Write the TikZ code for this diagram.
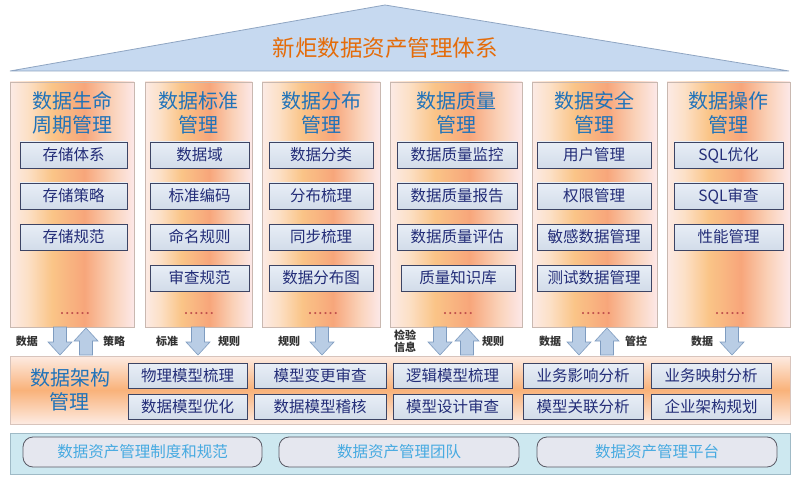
\documentclass[tikz,border=0pt]{standalone}
\usepackage{fontspec}
\setmainfont{Noto Sans CJK SC}
\definecolor{rooffill}{HTML}{C6D9F0}
\definecolor{roofline}{HTML}{8FA5C2}
\definecolor{titleorange}{HTML}{E46C0A}
\definecolor{colline}{HTML}{C9B8B0}
\definecolor{coltext}{RGB}{33,115,185}
\definecolor{itemtext}{RGB}{35,45,120}
\definecolor{itemline}{HTML}{3C4464}
\definecolor{itemtop}{HTML}{E8EEF6}
\definecolor{itembot}{HTML}{D2DCE9}
\definecolor{dotred}{HTML}{C0504D}
\definecolor{arrfill}{HTML}{B9CDE5}
\definecolor{arrline}{HTML}{7F9CC0}
\definecolor{labtext}{HTML}{333333}
\definecolor{bandedge}{HTML}{FDEBE2}
\definecolor{bandmid}{HTML}{F9B27A}
\definecolor{bandline}{HTML}{D8C4BC}
\definecolor{basefill}{HTML}{CDE8F0}
\definecolor{baseline}{HTML}{9FBAC6}
\definecolor{pillfill}{HTML}{E5E7EF}
\definecolor{pillline}{HTML}{5A5A66}
\definecolor{pilltext}{RGB}{70,170,225}
\pgfdeclarehorizontalshading{colshade}{100bp}{rgb(0bp)=(0.99,0.92,0.90); rgb(25bp)=(0.99,0.92,0.90); rgb(32bp)=(0.99,0.88,0.78); rgb(42bp)=(0.98,0.77,0.53); rgb(55bp)=(0.97,0.65,0.48); rgb(66bp)=(0.98,0.82,0.72); rgb(75bp)=(0.99,0.91,0.91); rgb(100bp)=(0.99,0.91,0.91)}
\tikzset{
  colbox/.style={draw=colline, line width=0.6pt, shading=colshade, minimum height=245pt, inner sep=0pt},
  coltitle/.style={text=coltext, align=center, font=\fontsize{20}{23.5}\selectfont},
  item/.style={draw=itemline, line width=0.8pt, top color=itemtop, bottom color=itembot, minimum height=26pt, inner sep=0pt, text=itemtext, font=\fontsize{15.5}{17}\selectfont},
  dots/.style={text=dotred, font=\fontsize{10}{10}\selectfont\bfseries},
  blockarrow/.style={draw=arrline, fill=arrfill, line width=0.6pt, line join=miter},
  arrlabel/.style={text=labtext, align=center, font=\fontsize{11}{12}\selectfont\bfseries},
  band/.style={draw=bandline, line width=0.6pt, top color=bandedge, bottom color=bandedge, middle color=bandmid, inner sep=0pt},
  architem/.style={draw=itemline, line width=0.8pt, top color=itemtop, bottom color=itembot, minimum height=25pt, minimum width=120pt, inner sep=0pt, text=itemtext, font=\fontsize{15.5}{17}\selectfont},
  pill/.style={draw=pillline, line width=0.8pt, fill=pillfill, rounded corners=10pt, minimum height=30pt, minimum width=240pt, inner sep=0pt, text=pilltext, font=\fontsize{15.5}{17}\selectfont},
}
\newcommand\DnArrow[1]{\draw[blockarrow] (#1-6.5,327) -- (#1+6.5,327) -- (#1+6.5,342) -- (#1+12,342) -- (#1,355) -- (#1-12,342) -- (#1-6.5,342) -- cycle;}
\newcommand\UpArrow[1]{\draw[blockarrow] (#1-6.5,355) -- (#1+6.5,355) -- (#1+6.5,341) -- (#1+12,341) -- (#1,328) -- (#1-12,341) -- (#1-6.5,341) -- cycle;}
\newcommand\SixDots{.\kern1.6pt.\kern1.6pt.\kern1.6pt.\kern1.6pt.\kern1.6pt.}
\begin{document}
\begin{tikzpicture}[x=1pt,y=-1pt]
\useasboundingbox (0,0) rectangle (800,481);
% roof
\coordinate (rl) at (10,71);
\coordinate (ra) at (385,5);
\coordinate (rr) at (789,71);
\draw[draw=roofline, fill=rooffill, line width=0.8pt] (rl) -- (ra) -- (rr) -- cycle;
\node[text=titleorange, font=\fontsize{22.5}{24}\selectfont] (title) at (385,48) {新炬数据资产管理体系};
% columns
\node[colbox, minimum width=124pt] (c1) at (72,204.5) {};
\node[colbox, minimum width=107pt] (c2) at (198.5,204.5) {};
\node[colbox, minimum width=118pt] (c3) at (321,204.5) {};
\node[colbox, minimum width=132pt] (c4) at (456,204.5) {};
\node[colbox, minimum width=125pt] (c5) at (594.5,204.5) {};
\node[colbox, minimum width=123pt] (c6) at (728.5,204.5) {};
% column titles
\node[coltitle] (t1) at (72,113) {数据生命\\周期管理};
\node[coltitle] (t2) at (198.5,113) {数据标准\\管理};
\node[coltitle] (t3) at (321,113) {数据分布\\管理};
\node[coltitle] (t4) at (456,113) {数据质量\\管理};
\node[coltitle] (t5) at (594.5,113) {数据安全\\管理};
\node[coltitle] (t6) at (728.5,113) {数据操作\\管理};
% items col1
\node[item, minimum width=107pt] (i11) at (73.5,155) {存储体系};
\node[item, minimum width=107pt] (i12) at (73.5,196) {存储策略};
\node[item, minimum width=107pt] (i13) at (73.5,237) {存储规范};
% col2
\node[item, minimum width=99pt] (i21) at (199.5,155) {数据域};
\node[item, minimum width=99pt] (i22) at (199.5,196) {标准编码};
\node[item, minimum width=99pt] (i23) at (199.5,237) {命名规则};
\node[item, minimum width=99pt] (i24) at (199.5,278) {审查规范};
% col3
\node[item, minimum width=104pt] (i31) at (321,155) {数据分类};
\node[item, minimum width=104pt] (i32) at (321,196) {分布梳理};
\node[item, minimum width=104pt] (i33) at (321,237) {同步梳理};
\node[item, minimum width=104pt] (i34) at (321,278) {数据分布图};
% col4
\node[item, minimum width=120pt] (i41) at (457,155) {数据质量监控};
\node[item, minimum width=120pt] (i42) at (457,196) {数据质量报告};
\node[item, minimum width=120pt] (i43) at (457,237) {数据质量评估};
\node[item, minimum width=114pt] (i44) at (458,278) {质量知识库};
% col5
\node[item, minimum width=114pt] (i51) at (594,155) {用户管理};
\node[item, minimum width=114pt] (i52) at (594,196) {权限管理};
\node[item, minimum width=114pt] (i53) at (594,237) {敏感数据管理};
\node[item, minimum width=114pt] (i54) at (594,278) {测试数据管理};
% col6
\node[item, minimum width=109pt] (i61) at (728.5,155) {SQL优化};
\node[item, minimum width=109pt] (i62) at (728.5,196) {SQL审查};
\node[item, minimum width=109pt] (i63) at (728.5,237) {性能管理};
% dots
\node[dots] (d1) at (75,314) {\SixDots};
\node[dots] (d2) at (199,314) {\SixDots};
\node[dots] (d3) at (323,314) {\SixDots};
\node[dots] (d4) at (458,314) {\SixDots};
\node[dots] (d5) at (596,314) {\SixDots};
\node[dots] (d6) at (730,314) {\SixDots};
% architecture band
\node[band, minimum width=780pt, minimum height=68pt] (arch) at (400,390) {};
\node[coltitle] (archt) at (70,390) {数据架构\\管理};
\node[architem, minimum width=119pt] (a11) at (187.5,376) {物理模型梳理};
\node[architem, minimum width=119pt] (a12) at (187.5,407) {数据模型优化};
\node[architem, minimum width=132pt] (a21) at (320,376) {模型变更审查};
\node[architem, minimum width=132pt] (a22) at (320,407) {数据模型稽核};
\node[architem, minimum width=119pt] (a31) at (452.5,376) {逻辑模型梳理};
\node[architem, minimum width=119pt] (a32) at (452.5,407) {模型设计审查};
\node[architem] (a41) at (583,376) {业务影响分析};
\node[architem] (a42) at (583,407) {模型关联分析};
\node[architem] (a51) at (711,376) {业务映射分析};
\node[architem] (a52) at (711,407) {企业架构规划};
% arrows
\DnArrow{60} \UpArrow{86}
\DnArrow{198}
\DnArrow{322}
\DnArrow{440} \UpArrow{467}
\DnArrow{579} \UpArrow{607}
\DnArrow{732}
% arrow labels
\node[arrlabel] (l1) at (27,341) {数据};
\node[arrlabel] (l2) at (114,341) {策略};
\node[arrlabel] (l3) at (167,341) {标准};
\node[arrlabel] (l4) at (229,341) {规则};
\node[arrlabel] (l5) at (289,341) {规则};
\node[arrlabel] (l6) at (405,341) {检验\\信息};
\node[arrlabel] (l7) at (493,341) {规则};
\node[arrlabel] (l8) at (550,341) {数据};
\node[arrlabel] (l9) at (636,341) {管控};
\node[arrlabel] (l10) at (702,341) {数据};
% base
\node[draw=baseline, fill=basefill, line width=0.8pt, minimum width=780pt, minimum height=41pt, inner sep=0pt] (base) at (400,453.5) {};
\node[pill, minimum width=239pt] (p1) at (142.5,452) {数据资产管理制度和规范};
\node[pill] (p2) at (399,452) {数据资产管理团队};
\node[pill] (p3) at (657,452) {数据资产管理平台};
\end{tikzpicture}
\end{document}
